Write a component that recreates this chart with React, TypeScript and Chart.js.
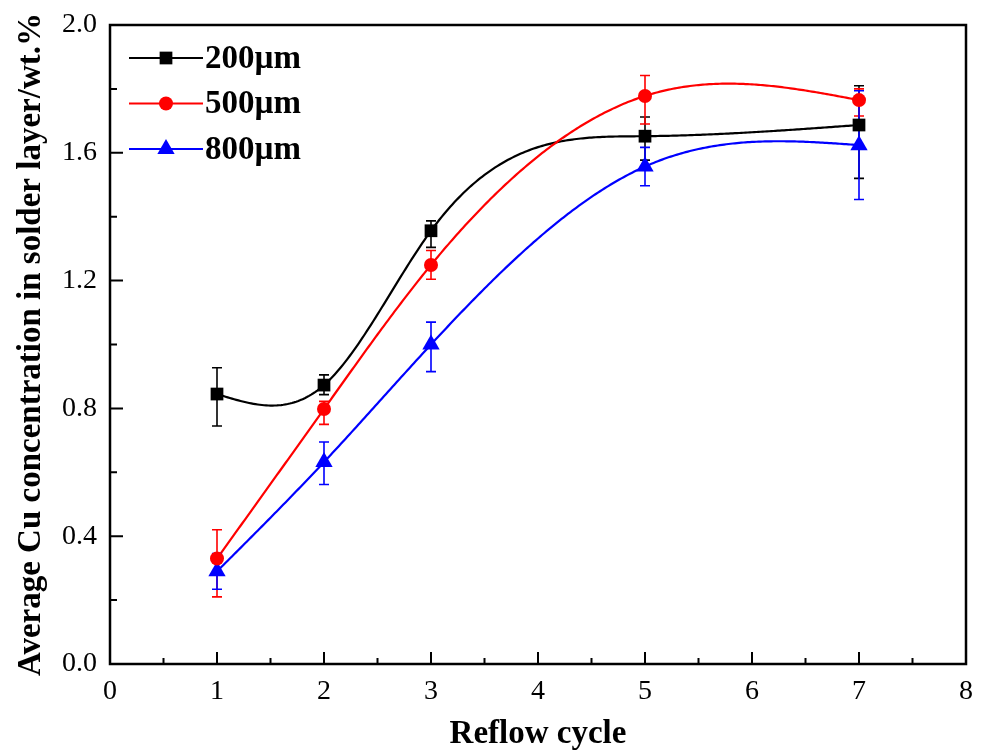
import { useEffect, useRef } from "react";
import { Chart, registerables } from "chart.js";

Chart.register(...registerables);

// ---- data ----
const cycles = [1, 2, 3, 5, 7];

const values200 = [0.845, 0.873, 1.356, 1.652, 1.687];
const errUp200 = [0.082, 0.032, 0.031, 0.06, 0.123];
const errDown200 = [0.1, 0.03, 0.052, 0.075, 0.167];

const values500 = [0.33, 0.798, 1.249, 1.778, 1.765];
const errUp500 = [0.09, 0.024, 0.045, 0.064, 0.035];
const errDown500 = [0.12, 0.048, 0.045, 0.088, 0.05];

const values800 = [0.29, 0.632, 1.0, 1.557, 1.624];
const errUp800 = [0.056, 0.063, 0.07, 0.06, 0.17];
const errDown800 = [0.056, 0.07, 0.085, 0.06, 0.17];

const seriesLabels = ["200\u00b5m", "500\u00b5m", "800\u00b5m"];
const seriesColors = ["#000000", "#ff0000", "#0000ff"];
const seriesStyles = ["rect", "circle", "triangle"];
const seriesRadius = [9, 7, 10];

const xTickLabels = [0, 1, 2, 3, 4, 5, 6, 7, 8];
const yTickLabels = ["0.0", "0.4", "0.8", "1.2", "1.6", "2.0"];

const xTitle = "Reflow cycle";
const yTitle = "Average Cu concentration in solder layer/wt.%";

const allValues = [values200, values500, values800];
const allUp = [errUp200, errUp500, errUp800];
const allDown = [errDown200, errDown500, errDown800];

// natural cubic spline through (xs, ys), evaluated in data space
function naturalSpline(xs: number[], ys: number[]) {
  const n = xs.length;
  const h: number[] = [];
  for (let i = 0; i < n - 1; i++) h[i] = xs[i + 1] - xs[i];
  const l = new Array(n).fill(0);
  const mu = new Array(n).fill(0);
  const z = new Array(n).fill(0);
  const c = new Array(n).fill(0);
  const b = new Array(n).fill(0);
  const d = new Array(n).fill(0);
  l[0] = 1;
  for (let i = 1; i < n - 1; i++) {
    const a = (3 / h[i]) * (ys[i + 1] - ys[i]) - (3 / h[i - 1]) * (ys[i] - ys[i - 1]);
    l[i] = 2 * (xs[i + 1] - xs[i - 1]) - h[i - 1] * mu[i - 1];
    mu[i] = h[i] / l[i];
    z[i] = (a - h[i - 1] * z[i - 1]) / l[i];
  }
  l[n - 1] = 1;
  z[n - 1] = 0;
  c[n - 1] = 0;
  for (let j = n - 2; j >= 0; j--) {
    c[j] = z[j] - mu[j] * c[j + 1];
    b[j] = (ys[j + 1] - ys[j]) / h[j] - (h[j] * (c[j + 1] + 2 * c[j])) / 3;
    d[j] = (c[j + 1] - c[j]) / (3 * h[j]);
  }
  return (t: number) => {
    let j = 0;
    while (j < n - 2 && t > xs[j + 1]) j++;
    const dx = t - xs[j];
    return ys[j] + b[j] * dx + c[j] * dx * dx + d[j] * dx * dx * dx;
  };
}

function drawMarker(ctx: CanvasRenderingContext2D, style: string, cx: number, cy: number, r: number, color: string) {
  ctx.fillStyle = color;
  ctx.beginPath();
  if (style === "rect") {
    const s = Math.SQRT1_2 * r;
    ctx.rect(cx - s, cy - s, 2 * s, 2 * s);
  } else if (style === "circle") {
    ctx.arc(cx, cy, r, 0, Math.PI * 2);
  } else {
    ctx.moveTo(cx, cy - r);
    ctx.lineTo(cx + r * Math.sin((2 * Math.PI) / 3), cy + r / 2);
    ctx.lineTo(cx - r * Math.sin((2 * Math.PI) / 3), cy + r / 2);
    ctx.closePath();
  }
  ctx.fill();
}

const decorPlugin = {
  id: "decor",
  beforeDatasetsDraw(chart: any) {
    const { ctx, chartArea, scales } = chart;
    const xs = scales.x;
    const ys = scales.y;
    ctx.save();
    // frame
    ctx.strokeStyle = "#000";
    ctx.lineWidth = 2.5;
    ctx.strokeRect(chartArea.left, chartArea.top, chartArea.right - chartArea.left, chartArea.bottom - chartArea.top);
    // inward ticks
    ctx.lineWidth = 2;
    ctx.beginPath();
    for (let v = 0; v <= 8.001; v += 0.5) {
      const px = xs.getPixelForValue(v);
      const len = Math.abs(v - Math.round(v)) < 1e-6 ? 12 : 6;
      ctx.moveTo(px, chartArea.bottom);
      ctx.lineTo(px, chartArea.bottom - len);
    }
    for (let v = 0; v <= 2.001; v += 0.2) {
      const py = ys.getPixelForValue(v);
      const k = Math.round(v / 0.2);
      const len = k % 2 === 0 ? 13 : 7;
      ctx.moveTo(chartArea.left, py);
      ctx.lineTo(chartArea.left + len, py);
    }
    ctx.stroke();

    // spline curves
    ctx.lineWidth = 2.2;
    ctx.lineJoin = "round";
    allValues.forEach((vals, si) => {
      const f = naturalSpline(cycles, vals);
      ctx.strokeStyle = seriesColors[si];
      ctx.beginPath();
      const x0 = cycles[0];
      const x1 = cycles[cycles.length - 1];
      const steps = 300;
      for (let i = 0; i <= steps; i++) {
        const t = x0 + ((x1 - x0) * i) / steps;
        const px = xs.getPixelForValue(t);
        const py = ys.getPixelForValue(f(t));
        if (i === 0) ctx.moveTo(px, py);
        else ctx.lineTo(px, py);
      }
      ctx.stroke();
    });

    // error bars
    ctx.lineWidth = 1.6;
    allValues.forEach((vals, si) => {
      ctx.strokeStyle = seriesColors[si];
      ctx.beginPath();
      vals.forEach((v, i) => {
        const px = xs.getPixelForValue(cycles[i]);
        const pTop = ys.getPixelForValue(v + allUp[si][i]);
        const pBot = ys.getPixelForValue(v - allDown[si][i]);
        ctx.moveTo(px, pTop);
        ctx.lineTo(px, pBot);
        ctx.moveTo(px - 5, pTop);
        ctx.lineTo(px + 5, pTop);
        ctx.moveTo(px - 5, pBot);
        ctx.lineTo(px + 5, pBot);
      });
      ctx.stroke();
    });
    ctx.restore();
  },
  afterDraw(chart: any) {
    const { ctx, chartArea } = chart;
    ctx.save();
    const lx0 = chartArea.left + 19;
    const lx1 = chartArea.left + 93;
    const mx = (lx0 + lx1) / 2;
    ctx.font = "bold 33px 'Liberation Serif'";
    ctx.textBaseline = "middle";
    ctx.textAlign = "left";
    seriesLabels.forEach((lab, i) => {
      const y = chartArea.top + 33 + i * 45.5;
      ctx.strokeStyle = seriesColors[i];
      ctx.lineWidth = 2.2;
      ctx.beginPath();
      ctx.moveTo(lx0, y);
      ctx.lineTo(lx1, y);
      ctx.stroke();
      drawMarker(ctx, seriesStyles[i], mx, y, seriesRadius[i], seriesColors[i]);
      ctx.fillStyle = "#000";
      ctx.fillText(lab, lx1 + 2, y + 1);
    });
    ctx.restore();
  },
};

export default function App() {
  const ref = useRef<HTMLCanvasElement | null>(null);
  useEffect(() => {
    if (!ref.current) return;
    const datasets = allValues.map((vals, si) => ({
      label: seriesLabels[si],
      data: vals.map((v, i) => ({ x: cycles[i], y: v })),
      showLine: false,
      pointStyle: seriesStyles[si] as any,
      pointRadius: seriesRadius[si],
      pointHoverRadius: seriesRadius[si],
      pointBackgroundColor: seriesColors[si],
      pointBorderColor: seriesColors[si],
      pointBorderWidth: 0,
      borderColor: seriesColors[si],
      backgroundColor: seriesColors[si],
    }));
    const chart = new Chart(ref.current, {
      type: "scatter",
      data: { datasets },
      plugins: [decorPlugin],
      options: {
        animation: false,
        responsive: false,
        devicePixelRatio: 1,
        events: [],
        layout: { padding: { top: 25, right: 15, left: 0, bottom: 0 } },
        plugins: { legend: { display: false }, tooltip: { enabled: false } },
        scales: {
          x: {
            type: "linear",
            min: 0,
            max: 8,
            afterFit: (s: any) => {
              s.height = 87;
              s.paddingLeft = 0;
              s.paddingRight = 0;
            },
            afterBuildTicks: (s: any) => {
              s.ticks = xTickLabels.map((v) => ({ value: v }));
            },
            ticks: {
              color: "#000",
              padding: 11,
              font: { family: "'Liberation Serif'", size: 28 },
              callback: (v: any) => String(v),
            },
            grid: { display: false, drawTicks: false },
            border: { display: false },
            title: {
              display: true,
              text: xTitle,
              color: "#000",
              font: { family: "'Liberation Serif'", size: 33, weight: "bold", lineHeight: 1 },
              padding: { top: 0, bottom: 0 },
            },
          },
          y: {
            type: "linear",
            min: 0,
            max: 2,
            afterFit: (s: any) => {
              s.width = 110;
              s.paddingTop = 0;
              s.paddingBottom = 0;
            },
            afterBuildTicks: (s: any) => {
              s.ticks = yTickLabels.map((t) => ({ value: parseFloat(t) }));
            },
            ticks: {
              color: "#000",
              padding: 13,
              font: { family: "'Liberation Serif'", size: 28 },
              callback: (v: any) => Number(v).toFixed(1),
            },
            grid: { display: false, drawTicks: false },
            border: { display: false },
            title: {
              display: true,
              text: yTitle,
              color: "#000",
              font: { family: "'Liberation Serif'", size: 33, weight: "bold", lineHeight: 1 },
              padding: { top: 15, bottom: 0 },
            },
          },
        },
      } as any,
    });
    return () => chart.destroy();
  }, []);
  return (
    <div style={{ position: "absolute", left: 0, top: 0, width: 981, height: 751, background: "#fff" }}>
      <canvas ref={ref} width={981} height={751} style={{ display: "block" }} />
    </div>
  );
}
